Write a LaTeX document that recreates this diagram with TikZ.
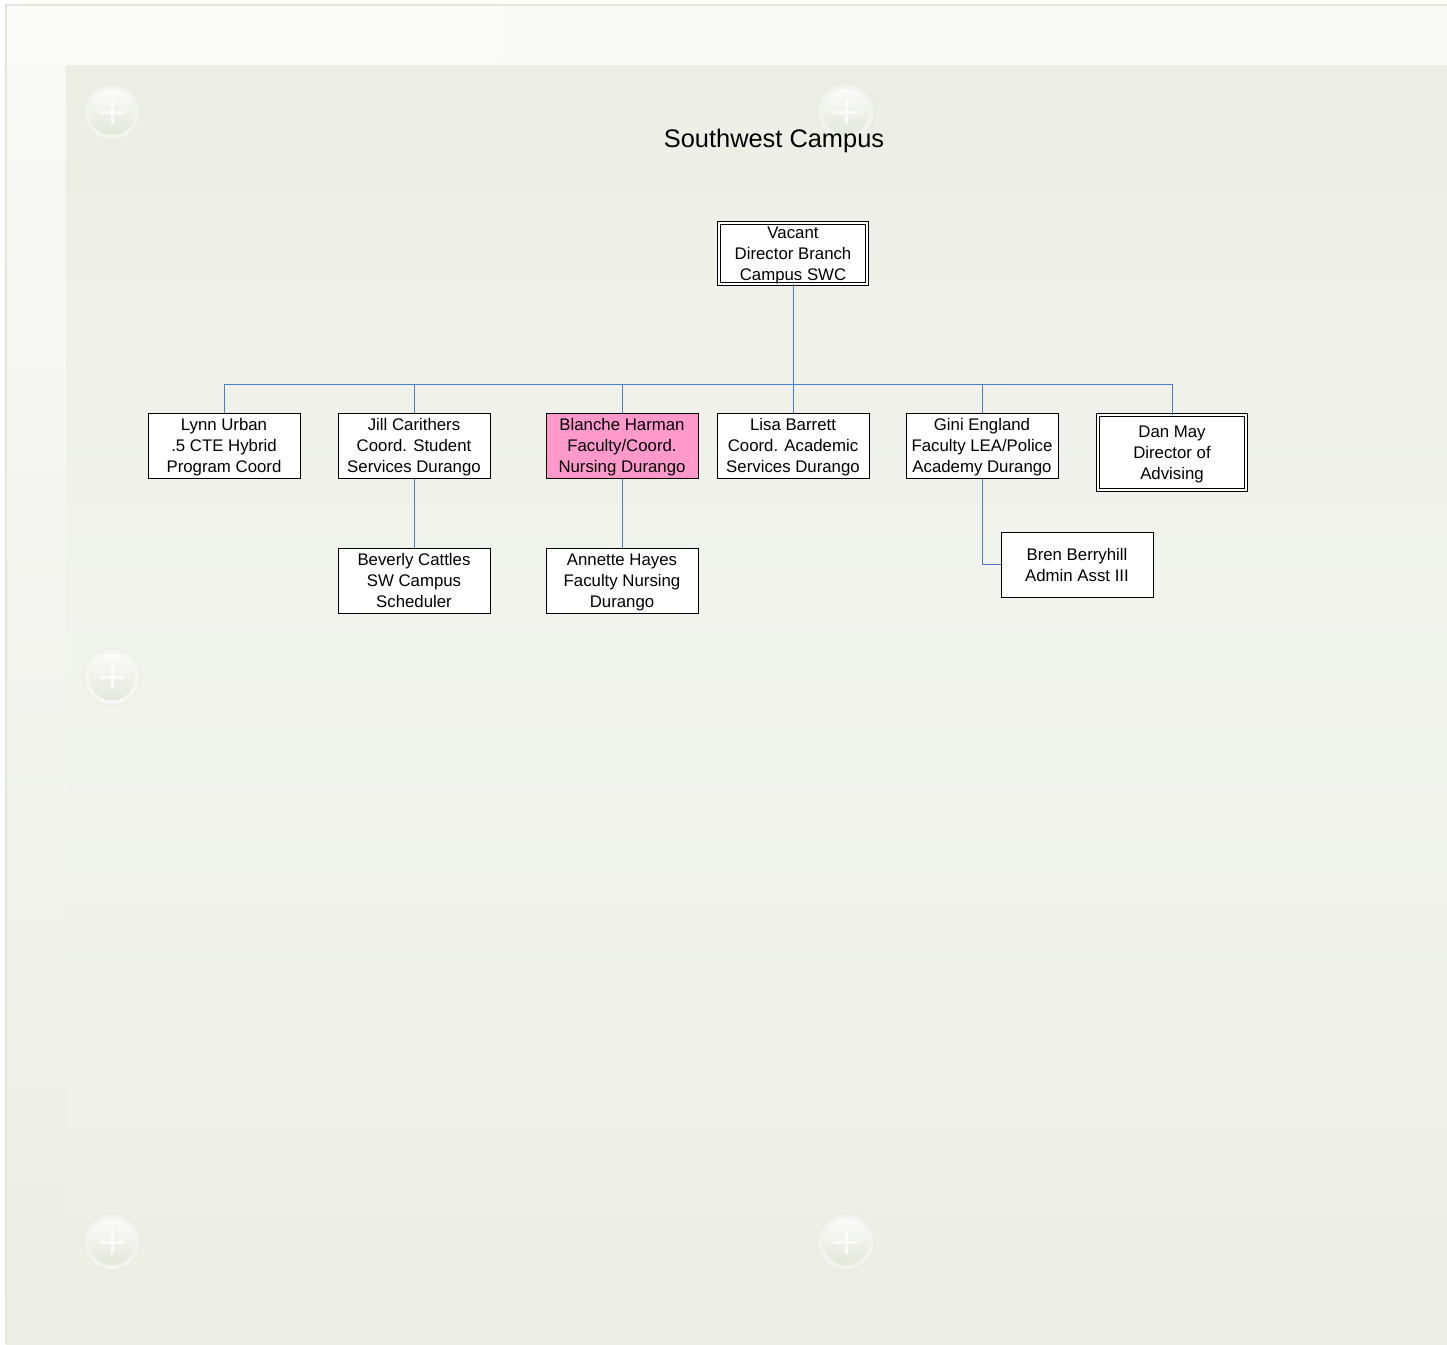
\documentclass[tikz,border=0pt]{standalone}
\usepackage{fontspec}
\setmainfont{Liberation Sans}
\definecolor{bgA}{RGB}{249,249,247}
\definecolor{bgB}{RGB}{236,238,229}
\definecolor{bgIn}{RGB}{236,238,230}
\definecolor{frameC}{RGB}{226,229,218}
\definecolor{lineC}{RGB}{74,126,205}
\definecolor{pinkC}{RGB}{255,153,204}
\definecolor{plusC}{RGB}{228,231,219}
\tikzset{
  box/.style={draw=black, line width=1pt, fill=white, minimum width=152pt, minimum height=65pt, inner sep=0pt, align=center, text depth=0pt, font=\fontsize{16.8}{21}\selectfont},
  dbox/.style={box, double=white, double distance=2pt, line width=0.9pt, minimum width=148pt, minimum height=61pt},
  conn/.style={draw=lineC, line width=1pt},
  plusmark/.pic={
    \fill[white, opacity=0.3] (0,0) circle (29);
    \draw[plusC, line width=1pt, opacity=0.7] (0,0) circle (28.5);
    \shade[shading angle=-45, top color=white!85!plusC, bottom color=plusC] (0,0) circle (23);
    \draw[white, line width=3pt, opacity=0.75] (-12,0) -- (12,0) (0,-12) -- (0,12);
  }
}
\begin{document}
\begin{tikzpicture}[x=1pt,y=-1pt]
\useasboundingbox (0,0) rectangle (1447,1344);
\fill[white] (0,0) rectangle (1447,1344);
% outer frame
\shade[top color=bgA, bottom color=bgB] (6,5) rectangle (1447,1344);
\fill[white, opacity=0.35] (6,5) rectangle (500,65);
\draw[frameC, line width=2pt] (6,1344) -- (6,5) -- (1447,5);
% inner panel
\shade[top color=bgIn, bottom color=bgIn, middle color=bgIn!70!white] (66,65) rectangle (1447,1344);
% plus marks
\pic at (112,112) {plusmark};
\pic at (846,112) {plusmark};
\pic at (112,677) {plusmark};
\pic at (112,1242) {plusmark};
\pic at (846,1242) {plusmark};
% title
\node[font=\fontsize{25.4}{30}\selectfont, inner sep=0pt] (title) at (774,141) {Southwest Campus};
% nodes
\node[dbox] (top) at (793,253.5) {Vacant\\Director Branch\\Campus SWC};
\node[box] (lynn) at (224,445.5) {Lynn Urban\\.5 CTE Hybrid\\Program Coord};
\node[box] (jill) at (414,445.5) {Jill Carithers\\Coord. Student\\Services Durango};
\node[box, fill=pinkC] (blanche) at (622,445.5) {Blanche Harman\\Faculty/Coord.\\Nursing Durango};
\node[box] (lisa) at (793,445.5) {Lisa Barrett\\Coord. Academic\\Services Durango};
\node[box] (gini) at (982,445.5) {Gini England\\Faculty LEA/Police\\Academy Durango};
\node[dbox, minimum height=75pt] (dan) at (1172,452.5) {Dan May\\Director of\\Advising};
\node[box] (bev) at (414,580.5) {Beverly Cattles\\SW Campus\\Scheduler};
\node[box] (ann) at (622,580.5) {Annette Hayes\\Faculty Nursing\\Durango};
\node[box] (bren) at (1077,564.5) {Bren Berryhill\\Admin Asst III};
% connectors
\coordinate (bus) at (793,384);
\draw[conn] (top.south) -- (bus);
\foreach \n in {lynn,jill,blanche,lisa,gini,dan} {
  \draw[conn] (bus) -| (\n.north);
}
\draw[conn] (jill.south) -- (bev.north);
\draw[conn] (blanche.south) -- (ann.north);
\draw[conn] (gini.south) |- (bren.west);
\end{tikzpicture}
\end{document}
